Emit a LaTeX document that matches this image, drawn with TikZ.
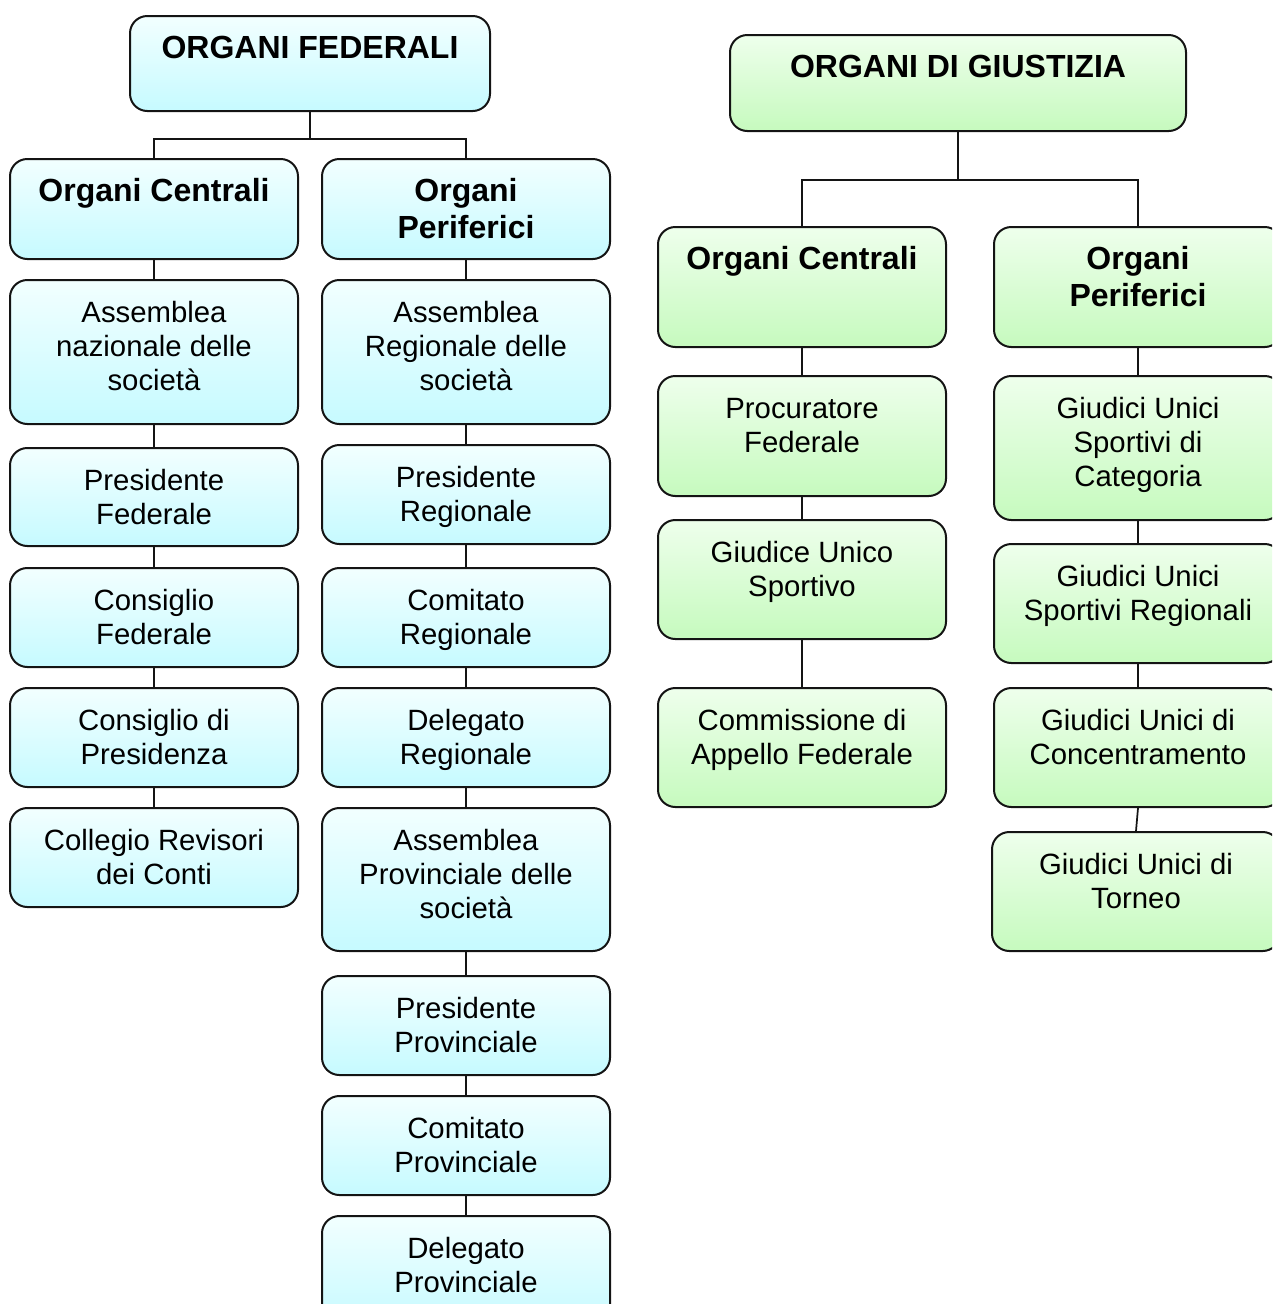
\documentclass[tikz,border=0pt]{standalone}
\usepackage{fontspec}
\setmainfont{Liberation Sans}
\usetikzlibrary{calc}

\definecolor{cyantop}{RGB}{242,255,255}
\definecolor{cyanbot}{RGB}{198,250,255}
\definecolor{greentop}{RGB}{238,255,236}
\definecolor{greenbot}{RGB}{198,250,190}
\definecolor{edge}{RGB}{20,20,20}

\tikzset{
  orgbox/.style={draw=edge, line width=1.5pt, rounded corners=13pt,
    inner sep=0pt, minimum width=216pt},
  fed/.style={orgbox, top color=cyantop, bottom color=cyanbot},
  giu/.style={orgbox, top color=greentop, bottom color=greenbot},
  lbl/.style={inner sep=0pt, anchor=base, font=\fontsize{22}{25.5}\selectfont},
  hlbl/.style={inner sep=0pt, anchor=base, font=\fontsize{24}{27.75}\selectfont\bfseries},
  link/.style={draw=edge, line width=1.3pt},
}

% box: name, box style, text style, centre x, top y, height, text
\newcommand\orgnode[7]{%
  \node[#2, minimum height=#6*0.75pt, anchor=north] (#1) at (#4,#5) {};
  \node[#3] (#1-txt) at ([yshift=-32.5pt]#1.north)
    {\begin{tabular}[t]{@{}c@{}}#7\end{tabular}};
}

\begin{document}
\begin{tikzpicture}[x=0.75pt,y=-0.75pt]
\useasboundingbox (0,0) rectangle (1272,1304);
\clip (0,0) rectangle (1272,1304);

% ---- Organi federali ----
\orgnode{OF}{fed, minimum width=270pt}{hlbl}{310}{15}{95}{ORGANI FEDERALI}
\orgnode{LC}{fed}{hlbl}{154}{158}{100}{Organi Centrali}
\orgnode{LP}{fed}{hlbl}{466}{158}{100}{Organi\\Periferici}

\orgnode{L1}{fed}{lbl}{154}{279}{144}{Assemblea\\nazionale delle\\società}
\orgnode{L2}{fed}{lbl}{154}{447}{98}{Presidente\\Federale}
\orgnode{L3}{fed}{lbl}{154}{567}{99}{Consiglio\\Federale}
\orgnode{L4}{fed}{lbl}{154}{687}{99}{Consiglio di\\Presidenza}
\orgnode{L5}{fed}{lbl}{154}{807}{99}{Collegio Revisori\\dei Conti}

\orgnode{R1}{fed}{lbl}{466}{279}{144}{Assemblea\\Regionale delle\\società}
\orgnode{R2}{fed}{lbl}{466}{444}{99}{Presidente\\Regionale}
\orgnode{R3}{fed}{lbl}{466}{567}{99}{Comitato\\Regionale}
\orgnode{R4}{fed}{lbl}{466}{687}{99}{Delegato\\Regionale}
\orgnode{R5}{fed}{lbl}{466}{807}{143}{Assemblea\\Provinciale delle\\società}
\orgnode{R6}{fed}{lbl}{466}{975}{99}{Presidente\\Provinciale}
\orgnode{R7}{fed}{lbl}{466}{1095}{99}{Comitato\\Provinciale}
\orgnode{R8}{fed}{lbl}{466}{1215}{110}{Delegato\\Provinciale}

\coordinate (F1) at ($(OF.south)+(0,27)$);
\draw[link] (OF.south) -- (F1) -| (LC.north);
\draw[link] (F1) -| (LP.north);
\draw[link] (LC.south) -- (L1.north);
\draw[link] (L1.south) -- (L2.north);
\draw[link] (L2.south) -- (L3.north);
\draw[link] (L3.south) -- (L4.north);
\draw[link] (L4.south) -- (L5.north);
\draw[link] (LP.south) -- (R1.north);
\draw[link] (R1.south) -- (R2.north);
\draw[link] (R2.south) -- (R3.north);
\draw[link] (R3.south) -- (R4.north);
\draw[link] (R4.south) -- (R5.north);
\draw[link] (R5.south) -- (R6.north);
\draw[link] (R6.south) -- (R7.north);
\draw[link] (R7.south) -- (R8.north);

% ---- Organi di giustizia ----
\orgnode{OG}{giu, minimum width=342pt}{hlbl}{958}{34}{96}{ORGANI DI GIUSTIZIA}
\orgnode{GC}{giu}{hlbl}{802}{226}{120}{Organi Centrali}
\orgnode{GP}{giu}{hlbl}{1138}{226}{120}{Organi\\Periferici}

\orgnode{G1}{giu}{lbl}{802}{375}{120}{Procuratore\\Federale}
\orgnode{G2}{giu}{lbl}{802}{519}{119}{Giudice Unico\\Sportivo}
\orgnode{G3}{giu}{lbl}{802}{687}{119}{Commissione di\\Appello Federale}

\orgnode{P1}{giu}{lbl}{1138}{375}{144}{Giudici Unici\\Sportivi di\\Categoria}
\orgnode{P2}{giu}{lbl}{1138}{543}{119}{Giudici Unici\\Sportivi Regionali}
\orgnode{P3}{giu}{lbl}{1138}{687}{119}{Giudici Unici di\\Concentramento}
\orgnode{P4}{giu}{lbl}{1136}{831}{119}{Giudici Unici di\\Torneo}

\coordinate (F2) at ($(OG.south)+(0,48)$);
\draw[link] (OG.south) -- (F2) -| (GC.north);
\draw[link] (F2) -| (GP.north);
\draw[link] (GC.south) -- (G1.north);
\draw[link] (G1.south) -- (G2.north);
\draw[link] (G2.south) -- (G3.north);
\draw[link] (GP.south) -- (P1.north);
\draw[link] (P1.south) -- (P2.north);
\draw[link] (P2.south) -- (P3.north);
\draw[link] (P3.south) -- (P4.north);
\end{tikzpicture}
\end{document}
